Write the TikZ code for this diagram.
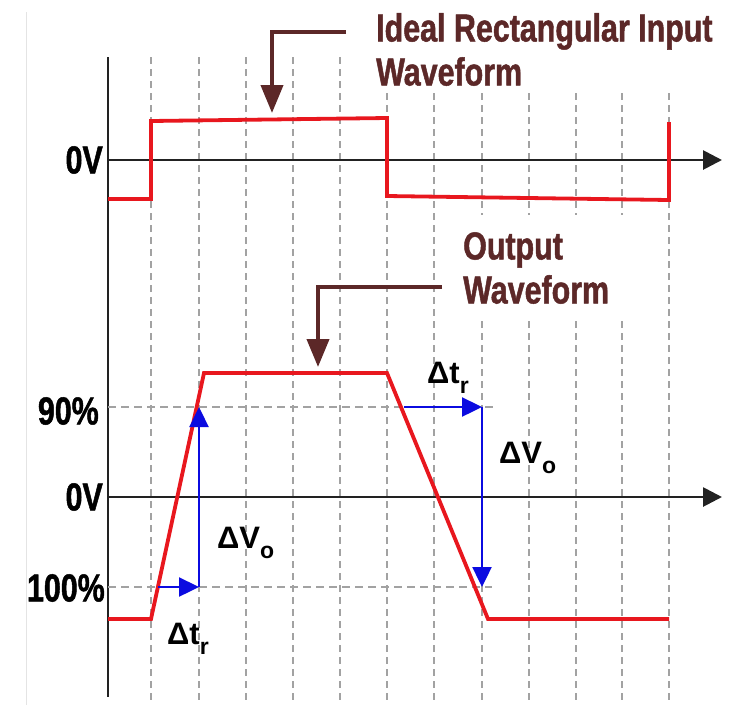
\documentclass[tikz,border=0pt]{standalone}
\usepackage{fontspec}
\setmainfont{Liberation Sans}
\newfontfamily\condfont[FakeStretch=0.78,FakeBold=1.2]{Liberation Sans}
\usetikzlibrary{arrows.meta,positioning,calc}
\definecolor{Ink}{HTML}{222222}
\definecolor{GridGray}{HTML}{A2A2A2}
\definecolor{WRed}{HTML}{E8171E}
\definecolor{MBlue}{HTML}{0B0BE0}
\definecolor{Maroon}{HTML}{5C2828}
\definecolor{Frame}{HTML}{E4E4E4}
\newcommand\lowsub[1]{\raisebox{-10pt}{\fontsize{23}{23}\selectfont#1}}

\begin{document}
\begin{tikzpicture}[x=1pt,y=-1pt,
    grid/.style={draw=GridGray,line width=1.4pt,dash pattern=on 7pt off 5pt},
    lvl/.style={draw=GridGray,line width=2.2pt,dash pattern=on 8pt off 5pt},
    axis/.style={draw=Ink,line width=2.8pt},
    axarrow/.style={axis,-{Triangle[length=19pt,width=19pt]}},
    wave/.style={draw=WRed,line width=3.8pt,line join=miter},
    meas/.style={draw=MBlue,line width=2.4pt,-{Triangle[length=20pt,width=19pt]}},
    callout/.style={draw=Maroon,line width=4pt,-{Triangle[length=28pt,width=22pt]}},
    big/.style={font=\condfont\bfseries\fontsize{39}{44}\selectfont,inner sep=0pt},
    dlt/.style={font=\bfseries\fontsize{31}{33}\selectfont,inner sep=0pt,anchor=base west}]
  \useasboundingbox (0,0) rectangle (733,705);
  \draw[Frame,line width=1pt] (26,705) -- (26,12);
  \foreach \gx in {151,199,246,293,340,387,434,482,529,576,622,669}
    \draw[grid] (\gx,57) -- (\gx,703);
  \node[big,text=Maroon,fill=white,inner sep=7pt,align=left,anchor=north west] (inLbl) at (369,6) {Ideal Rectangular Input\\Waveform};
  \node[big,text=Maroon,fill=white,inner xsep=17pt,inner ysep=17pt,align=left,anchor=north west] (outLbl) at (446,215) {Output\\Waveform};
  % axes
  \draw[axis] (108,57) -- (108,697);
  \coordinate (topAx) at (108,160);
  \coordinate (topEnd) at (722,160);
  \coordinate (botAx) at (108,497);
  \coordinate (botEnd) at (722,497);
  \draw[axarrow] (topAx) -- (topEnd);
  \draw[axarrow] (botAx) -- (botEnd);
  \node[big,anchor=east] (zTop) at (103,160) {0V};
  \node[big,anchor=east] (zBot) at (103,497) {0V};
  \node[big,anchor=east] (p90) at (99,411) {90\%};
  \node[big,anchor=east] (p100) at (105,588) {100\%};
  % 90 / 100 levels
  \draw[lvl] (108,407) -- (493,407);
  \draw[lvl] (108,587) -- (492,587);
  % waveforms
  \draw[wave] (108,199) -- (151,199) -- (151,121) -- (387,118) -- (387,196) -- (669,200) -- (669,122);
  \draw[wave] (108,619) -- (151,619) -- (204,373) -- (387,373) -- (488,619) -- (669,619);
  % rise / fall measures
  \coordinate (r100) at (158,587);
  \coordinate (c100) at (199,587);
  \coordinate (c90) at (199,407);
  \coordinate (f90) at (404,407);
  \coordinate (d90) at (482,407);
  \coordinate (d100) at (482,587);
  \draw[meas] (r100) -- (c100);
  \draw[meas] (c100) -- (c90);
  \draw[meas] (f90) -- (d90);
  \draw[meas] (d90) -- (d100);
  \node[dlt] (trL) at (167,644) {Δt\lowsub{r}};
  \node[dlt] (voL) at (217,548) {ΔV\lowsub{o}};
  \node[dlt] (trR) at (427,383) {Δt\lowsub{r}};
  \node[dlt] (voR) at (499,463) {ΔV\lowsub{o}};
  % callouts
  \coordinate (inTail) at (346,32);
  \coordinate (inTip) at (272,113);
  \coordinate (outTail) at (442,287);
  \coordinate (outTip) at (318,367);
  \draw[callout] (inTail) -| (inTip);
  \draw[callout] (outTail) -| (outTip);
\end{tikzpicture}
\end{document}
